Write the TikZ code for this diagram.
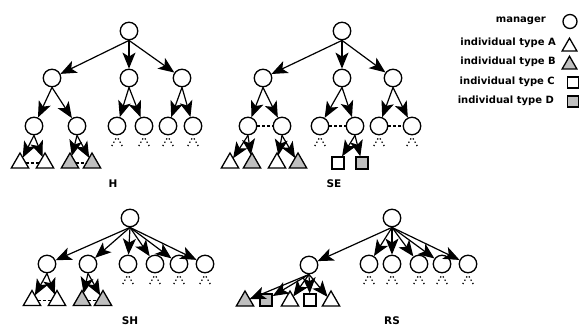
\documentclass[tikz,border=0pt]{standalone}
\usepackage{fontspec}
\setmainfont{DejaVu Sans}
\usetikzlibrary{arrows.meta,shapes.geometric}
\begin{document}
\begin{tikzpicture}[x=1pt,y=-1pt,
  mgr/.style={circle,draw,line width=1.3pt,minimum size=17.5pt,inner sep=0pt,fill=white},
  tri/.style={regular polygon,regular polygon sides=3,draw,line width=1.3pt,minimum size=20pt,inner sep=0pt,outer sep=0pt,fill=white},
  sq/.style={rectangle,draw,line width=1.3pt,minimum size=12pt,inner sep=0pt,fill=white},
  gr/.style={fill=black!25},
  arr/.style={line width=1.2pt,-{Stealth[length=16pt,width=13pt,inset=4pt]}},
  dsh/.style={line width=1.2pt,dash pattern=on 3pt off 2pt},
  leg/.style={line width=1.3pt,dash pattern=on 1.3pt off 2.4pt},
  lbl/.style={font=\fontsize{10.5}{12}\selectfont\bfseries,inner sep=0pt},
  lgd/.style={font=\fontsize{10}{12}\selectfont\bfseries,inner sep=0pt,anchor=east}
]
\useasboundingbox (0,0) rectangle (581,333);

% ---------- H ----------
\node[mgr] (hr) at (129,31) {};
\node[mgr] (ha) at (52,78) {};
\node[mgr] (hb) at (129,78) {};
\node[mgr] (hc) at (182,78) {};
\node[mgr] (haa) at (34,126) {};
\node[mgr] (hab) at (77,126) {};
\node[mgr] (hba) at (117,126) {};
\node[mgr] (hbb) at (144,126) {};
\node[mgr] (hca) at (168,126) {};
\node[mgr] (hcb) at (193,126) {};
\node[tri] (ht1) at (20,163) {};
\node[tri] (ht2) at (45,163) {};
\node[tri,gr] (ht3) at (70,163) {};
\node[tri,gr] (ht4) at (92,163) {};
\foreach \c in {ha,hb,hc} \draw[arr] (hr.south) -- (\c);
\draw[arr] (ha.south) -- (haa); \draw[arr] (ha.south) -- (hab);
\draw[arr] (hb.south) -- (hba); \draw[arr] (hb.south) -- (hbb);
\draw[arr] (hc.south) -- (hca); \draw[arr] (hc.south) -- (hcb);
\draw[arr] (haa.south) -- (ht1); \draw[arr] (haa.south) -- (ht2);
\draw[arr] (hab.south) -- (ht3); \draw[arr] (hab.south) -- (ht4);
\draw[dsh] (ht1) -- (ht2);
\draw[dsh] (ht3) -- (ht4);
\node[lbl] (lh) at (113,184) {H};

% ---------- SE ----------
\node[mgr] (sr) at (342,31) {};
\node[mgr] (sa) at (263,78) {};
\node[mgr] (sb) at (342,78) {};
\node[mgr] (sc) at (393,78) {};
\node[mgr] (saa) at (248,126) {};
\node[mgr] (sab) at (282,126) {};
\node[mgr] (sba) at (320,126) {};
\node[mgr] (sbb) at (355,126) {};
\node[mgr] (sca) at (379,126) {};
\node[mgr] (scb) at (412,126) {};
\node[tri] (st1) at (230,163) {};
\node[tri,gr] (st2) at (252,163) {};
\node[tri] (st3) at (277,163) {};
\node[tri,gr] (st4) at (298,163) {};
\node[sq] (ss1) at (338,163) {};
\node[sq,gr] (ss2) at (362,163) {};
\foreach \c in {sa,sb,sc} \draw[arr] (sr.south) -- (\c);
\draw[arr] (sa.south) -- (saa); \draw[arr] (sa.south) -- (sab);
\draw[arr] (sb.south) -- (sba); \draw[arr] (sb.south) -- (sbb);
\draw[arr] (sc.south) -- (sca); \draw[arr] (sc.south) -- (scb);
\draw[arr] (saa.south) -- (st1); \draw[arr] (saa.south) -- (st2);
\draw[arr] (sab.south) -- (st3); \draw[arr] (sab.south) -- (st4);
\draw[arr] (sbb.south) -- (ss1); \draw[arr] (sbb.south) -- (ss2);
\draw[dsh] (saa) -- (sab);
\draw[dsh] (sba) -- (sbb);
\draw[dsh] (sca) -- (scb);
\node[lbl] (lse) at (334,184) {SE};

% ---------- SH ----------
\node[mgr] (qr) at (130,218) {};
\node[mgr] (q1) at (47,264) {};
\node[mgr] (q2) at (88,264) {};
\node[mgr] (q3) at (128,264) {};
\node[mgr] (q4) at (155,264) {};
\node[mgr] (q5) at (179,264) {};
\node[mgr] (q6) at (205,264) {};
\node[tri] (qt1) at (32,300.5) {};
\node[tri] (qt2) at (57,300.5) {};
\node[tri,gr] (qt3) at (82,300.5) {};
\node[tri,gr] (qt4) at (103,300.5) {};
\foreach \c in {q1,q2,q3,q4,q5,q6} \draw[arr] (qr.south) -- (\c);
\draw[arr] (q1.south) -- (qt1); \draw[arr] (q1.south) -- (qt2);
\draw[arr] (q2.south) -- (qt3); \draw[arr] (q2.south) -- (qt4);
\draw[dsh] (qt1) -- (qt2);
\draw[dsh] (qt3) -- (qt4);
\node[lbl] (lsh) at (130,321) {SH};

% ---------- RS ----------
\node[mgr] (rr) at (392,218) {};
\node[mgr] (r1) at (309,265) {};
\node[mgr] (r2) at (369,264) {};
\node[mgr] (r3) at (392,264) {};
\node[mgr] (r4) at (419,264) {};
\node[mgr] (r5) at (442,264) {};
\node[mgr] (r6) at (468,264) {};
\node[tri,gr] (rt1) at (245,301) {};
\node[sq,gr] (rq1) at (266,300) {};
\node[tri] (rt2) at (290,301) {};
\node[sq] (rq2) at (310,300) {};
\node[tri] (rt3) at (331,301) {};
\foreach \c in {r1,r2,r3,r4,r5,r6} \draw[arr] (rr.south) -- (\c);
\foreach \c in {rt1,rq1,rt2,rq2,rt3} \draw[arr] (r1.south) -- (\c);
\node[lbl] (lrs) at (392,321) {RS};

% ---------- dotted legs ----------
\foreach \c in {hba,hbb,hca,hcb,sba,sca,scb,q3,q4,q5,q6,r2,r3,r4,r5,r6}{
  \draw[leg] ([shift={(-1,3)}]\c.south) -- ++(-5,9);
  \draw[leg] ([shift={(1,3)}]\c.south) -- ++(5,9);
}

% ---------- legend ----------
\node[lgd] (t1) at (546,21) {manager};
\node[lgd] (t2) at (556,43) {individual type A};
\node[lgd] (t3) at (556,62) {individual type B};
\node[lgd] (t4) at (555,82) {individual type C};
\node[lgd] (t5) at (554,101) {individual type D};
\node[mgr,minimum size=14pt] (k1) at (570,21.5) {};
\node[tri,minimum size=17pt] (k2) at (569.5,46.7) {};
\node[tri,gr,minimum size=17pt] (k3) at (569.5,64.7) {};
\node[sq,minimum size=11pt] (k4) at (573,82.5) {};
\node[sq,gr,minimum size=11pt] (k5) at (573,101.5) {};
\end{tikzpicture}
\end{document}
